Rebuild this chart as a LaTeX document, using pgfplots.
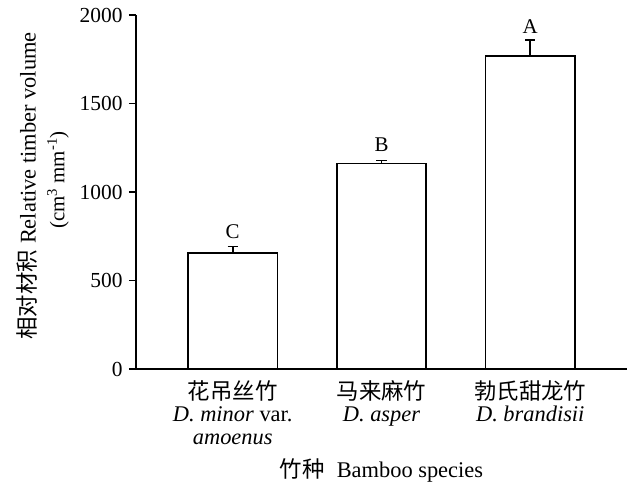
\documentclass[border=0pt]{standalone}
\usepackage{pgfplots}
\pgfplotsset{compat=1.18}
\usepackage{fontspec}
\setmainfont{Liberation Serif}
\newfontfamily\cjk{Noto Sans CJK SC}
\newcommand\lbl{\fontsize{22.5}{22.5}\selectfont}

\begin{document}
\begin{tikzpicture}
	\useasboundingbox (-136bp,-117bp) rectangle (494bp,369bp);
	\begin{axis}[
		at={(0,0)}, anchor=south west,
		width=491bp, height=354bp,
		scale only axis,
		ybar, bar width=0.6,
		xmin=-0.65, xmax=2.65,
		ymin=0, ymax=2000,
		axis lines*=left,
		axis line style={line width=1.6bp, -},
		ytick={0,500,1000,1500,2000},
		tick align=outside,
		major tick length=7bp,
		tick style={line width=1.6bp, black},
		major x tick style={draw=none},
		xtick={0,1,2},
		xticklabels={
			{{\cjk 花吊丝竹}\\\textit{D. minor} var.\\\textit{amoenus}},
			{{\cjk 马来麻竹}\\\textit{D. asper}},
			{{\cjk 勃氏甜龙竹}\\\textit{D. brandisii}},
		},
		x tick label style={align=center, font=\lbl, anchor=north, yshift=-1bp},
		y tick label style={font=\fontsize{21.5}{22}\selectfont, xshift=-3bp},
		/pgf/number format/assume math mode=true,
		/pgf/number format/1000 sep={},
		clip=false,
		]
		\addplot[
			draw=black, fill=white, line width=1.6bp,
			error bars/.cd,
			y dir=plus, y explicit,
			error bar style={line width=1.6bp},
			error mark options={rotate=90, mark size=5bp, line width=1.6bp},
		] coordinates {
				(0, 657) +- (0, 34)
				(1, 1161) +- (0, 17)
				(2, 1768) +- (0, 90)
			};
		% significance letters
		\node[anchor=base, yshift=8bp, font=\fontsize{21}{22}\selectfont] at (axis cs:0,691) {C};
		\node[anchor=base, yshift=9bp, font=\fontsize{21}{22}\selectfont] at (axis cs:1,1178) {B};
		\node[anchor=base, yshift=7bp, font=\fontsize{21}{22}\selectfont] at (axis cs:2,1858) {A};
		% axis titles
		\node[rotate=90, font=\lbl] at ([xshift=-109bp]rel axis cs:0,0.517)
			{{\cjk 相对材积}\hspace{6bp}Relative timber volume};
		\node[rotate=90, font=\fontsize{21}{22}\selectfont] at ([xshift=-78bp]rel axis cs:0,0.534)
			{(cm\textsuperscript{3} mm\textsuperscript{-1})};
		\node[anchor=base, font=\lbl] at ([yshift=-108bp]rel axis cs:0.5,0)
			{{\cjk 竹种}\hspace{12bp}Bamboo species};
	\end{axis}
\end{tikzpicture}
\end{document}
